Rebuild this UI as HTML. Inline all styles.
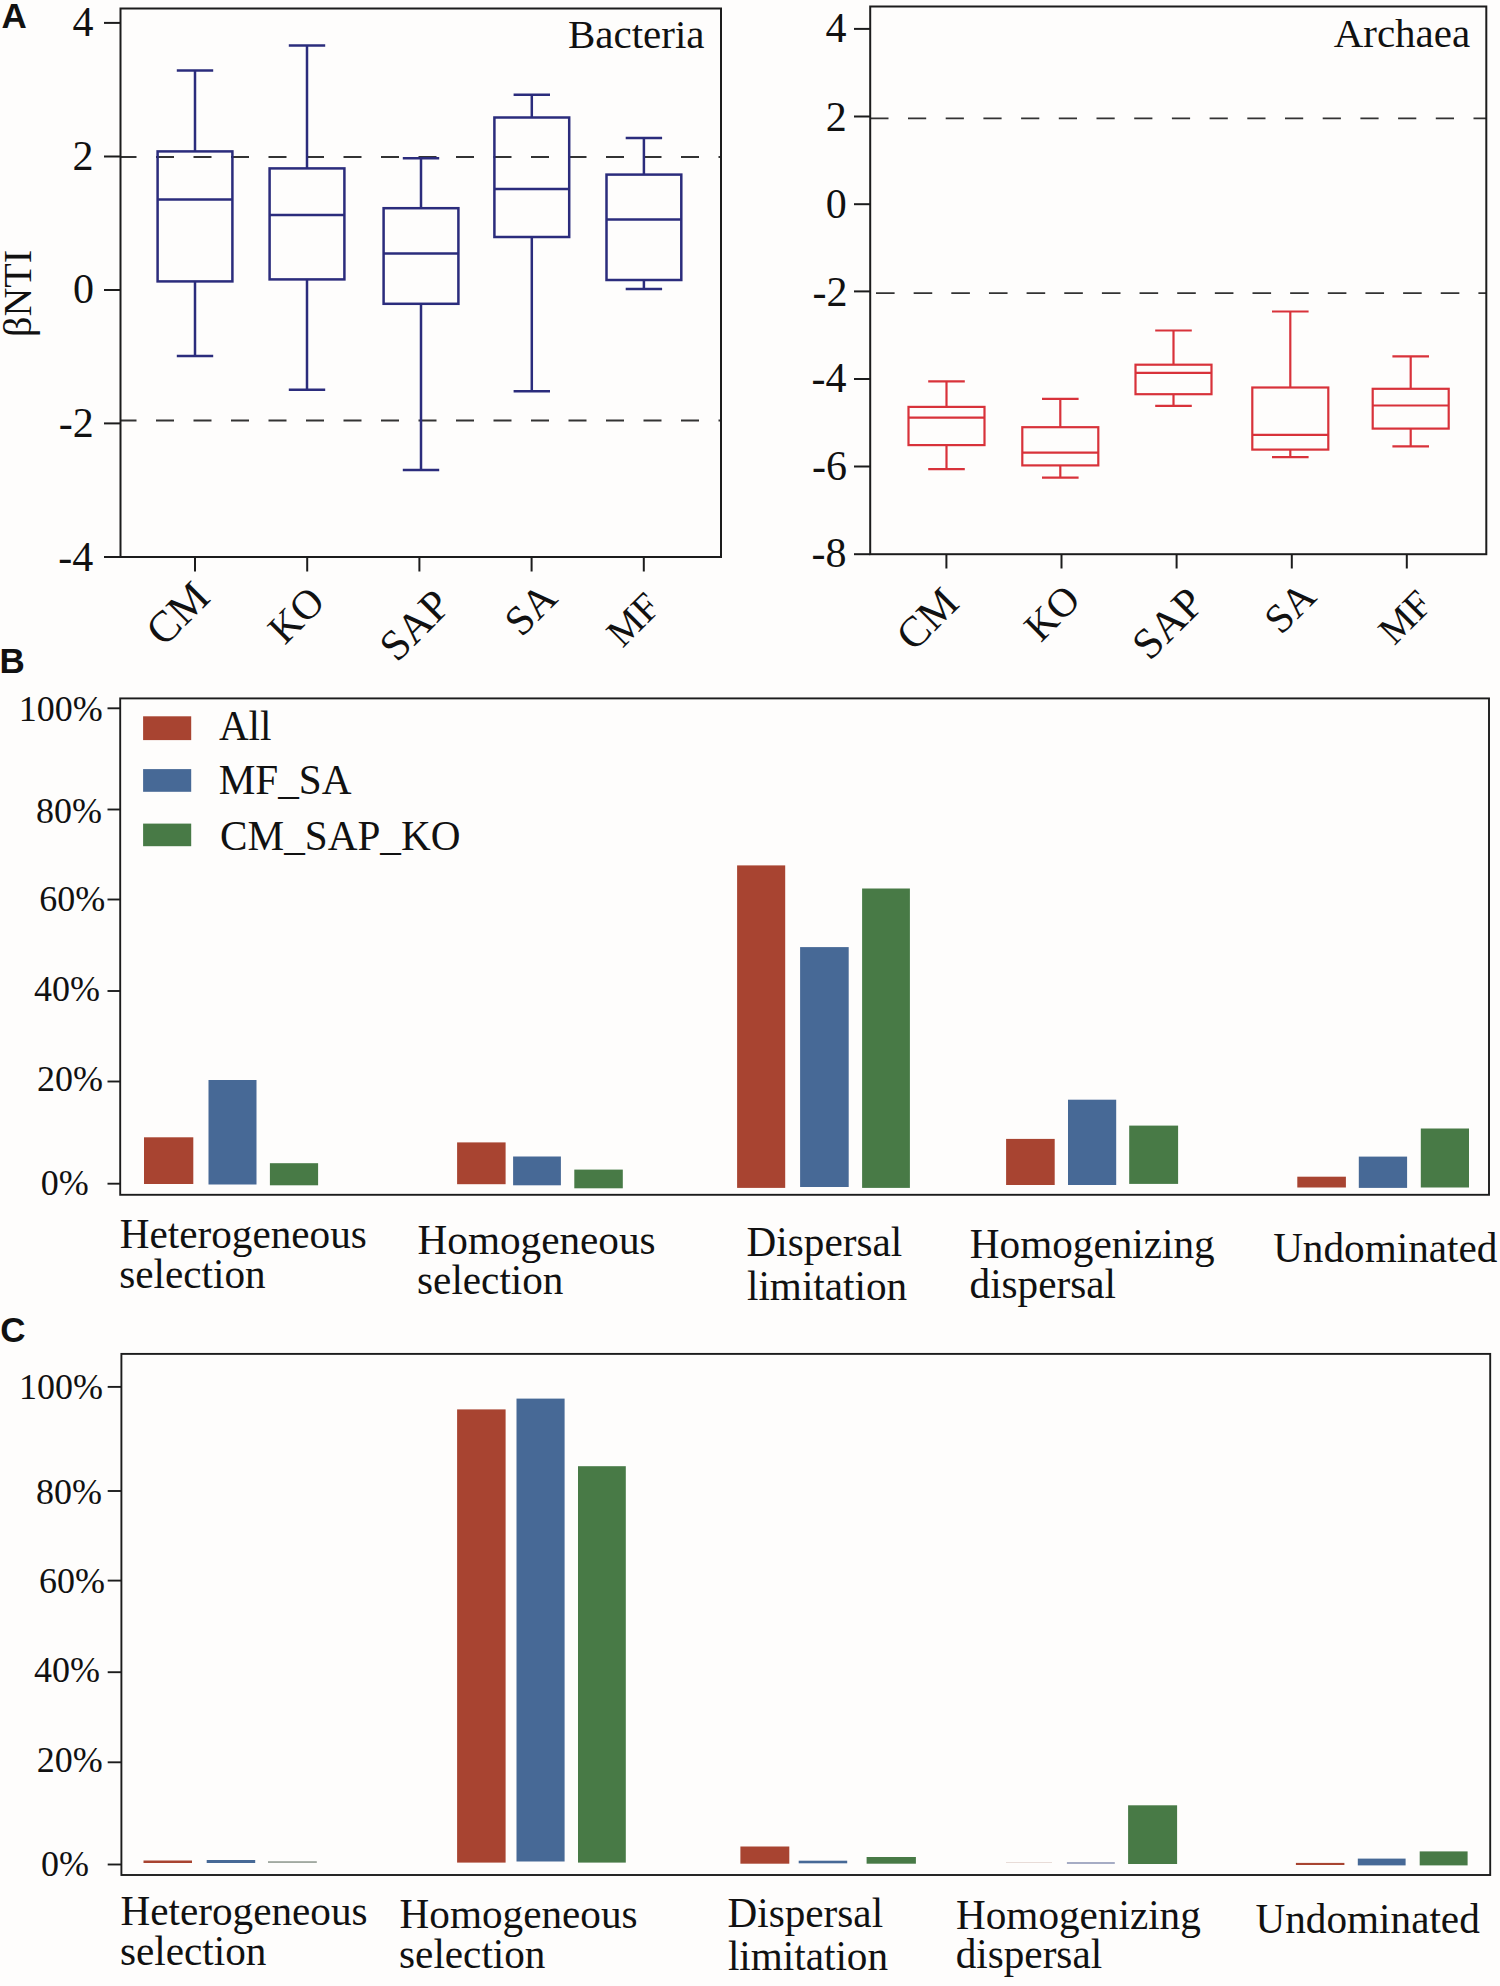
<!DOCTYPE html>
<html><head><meta charset="utf-8"><title>Figure</title><style>
html,body{margin:0;padding:0;background:#fefdfc;}
svg{display:block;}
text{fill:#111;font-kerning:none;}
</style></head><body>
<svg width="1500" height="1986" viewBox="0 0 1500 1986">
<rect width="1500" height="1986" fill="#fefdfc"/>
<text x="1.59" y="27.94" font-size="35" style="font-family:'Liberation Sans',sans-serif;font-weight:bold" >A</text>
<line x1="120.5" y1="157" x2="721" y2="157" stroke="#333" stroke-width="2" stroke-dasharray="18 19.5" stroke-dashoffset="2.0"/>
<line x1="120.5" y1="420.5" x2="721" y2="420.5" stroke="#333" stroke-width="2" stroke-dasharray="18 19.5" stroke-dashoffset="2.0"/>
<rect x="120.5" y="8.5" width="600.5" height="548.5" fill="none" stroke="#1c1c1c" stroke-width="2"/>
<line x1="104" y1="22.9" x2="120.5" y2="22.9" stroke="#1c1c1c" stroke-width="2" />
<line x1="104" y1="156.5" x2="120.5" y2="156.5" stroke="#1c1c1c" stroke-width="2" />
<line x1="104" y1="290" x2="120.5" y2="290" stroke="#1c1c1c" stroke-width="2" />
<line x1="104" y1="423.4" x2="120.5" y2="423.4" stroke="#1c1c1c" stroke-width="2" />
<line x1="104" y1="557" x2="120.5" y2="557" stroke="#1c1c1c" stroke-width="2" />
<text x="72.42" y="36.17" font-size="42" style="font-family:'Liberation Serif',serif" >4</text>
<text x="72.59" y="169.9" font-size="42" style="font-family:'Liberation Serif',serif" >2</text>
<text x="72.9" y="303.16" font-size="42" style="font-family:'Liberation Serif',serif" >0</text>
<text x="58.74" y="437.1" font-size="42" style="font-family:'Liberation Serif',serif" >-2</text>
<text x="58.36" y="570.52" font-size="42" style="font-family:'Liberation Serif',serif" >-4</text>
<line x1="195" y1="557" x2="195" y2="571.5" stroke="#1c1c1c" stroke-width="2" />
<line x1="307.2" y1="557" x2="307.2" y2="571.5" stroke="#1c1c1c" stroke-width="2" />
<line x1="419.4" y1="557" x2="419.4" y2="571.5" stroke="#1c1c1c" stroke-width="2" />
<line x1="531.6" y1="557" x2="531.6" y2="571.5" stroke="#1c1c1c" stroke-width="2" />
<line x1="643.8" y1="557" x2="643.8" y2="571.5" stroke="#1c1c1c" stroke-width="2" />
<line x1="176.8" y1="70.6" x2="213.2" y2="70.6" stroke="#2b2c7c" stroke-width="2.5" />
<line x1="195" y1="70.6" x2="195" y2="151.4" stroke="#2b2c7c" stroke-width="2.5" />
<rect x="157.6" y="151.4" width="74.8" height="130.0" fill="none" stroke="#2b2c7c" stroke-width="2.5"/>
<line x1="157.6" y1="199.6" x2="232.4" y2="199.6" stroke="#2b2c7c" stroke-width="2.5" />
<line x1="195" y1="281.4" x2="195" y2="356" stroke="#2b2c7c" stroke-width="2.5" />
<line x1="176.8" y1="356" x2="213.2" y2="356" stroke="#2b2c7c" stroke-width="2.5" />
<line x1="288.8" y1="45.6" x2="325.2" y2="45.6" stroke="#2b2c7c" stroke-width="2.5" />
<line x1="307" y1="45.6" x2="307" y2="168.4" stroke="#2b2c7c" stroke-width="2.5" />
<rect x="269.6" y="168.4" width="74.8" height="111.0" fill="none" stroke="#2b2c7c" stroke-width="2.5"/>
<line x1="269.6" y1="215" x2="344.4" y2="215" stroke="#2b2c7c" stroke-width="2.5" />
<line x1="307" y1="279.4" x2="307" y2="389.8" stroke="#2b2c7c" stroke-width="2.5" />
<line x1="288.8" y1="389.8" x2="325.2" y2="389.8" stroke="#2b2c7c" stroke-width="2.5" />
<line x1="402.8" y1="158.3" x2="439.2" y2="158.3" stroke="#2b2c7c" stroke-width="2.5" />
<line x1="421" y1="158.3" x2="421" y2="208.2" stroke="#2b2c7c" stroke-width="2.5" />
<rect x="383.6" y="208.2" width="74.8" height="95.6" fill="none" stroke="#2b2c7c" stroke-width="2.5"/>
<line x1="383.6" y1="253.5" x2="458.4" y2="253.5" stroke="#2b2c7c" stroke-width="2.5" />
<line x1="421" y1="303.8" x2="421" y2="470" stroke="#2b2c7c" stroke-width="2.5" />
<line x1="402.8" y1="470" x2="439.2" y2="470" stroke="#2b2c7c" stroke-width="2.5" />
<line x1="513.6" y1="94.8" x2="550.0" y2="94.8" stroke="#2b2c7c" stroke-width="2.5" />
<line x1="531.8" y1="94.8" x2="531.8" y2="117.5" stroke="#2b2c7c" stroke-width="2.5" />
<rect x="494.4" y="117.5" width="74.8" height="119.5" fill="none" stroke="#2b2c7c" stroke-width="2.5"/>
<line x1="494.4" y1="188.9" x2="569.2" y2="188.9" stroke="#2b2c7c" stroke-width="2.5" />
<line x1="531.8" y1="237" x2="531.8" y2="391.2" stroke="#2b2c7c" stroke-width="2.5" />
<line x1="513.6" y1="391.2" x2="550.0" y2="391.2" stroke="#2b2c7c" stroke-width="2.5" />
<line x1="625.7" y1="137.9" x2="662.1" y2="137.9" stroke="#2b2c7c" stroke-width="2.5" />
<line x1="643.9" y1="137.9" x2="643.9" y2="174.6" stroke="#2b2c7c" stroke-width="2.5" />
<rect x="606.5" y="174.6" width="74.8" height="105.4" fill="none" stroke="#2b2c7c" stroke-width="2.5"/>
<line x1="606.5" y1="219.5" x2="681.3" y2="219.5" stroke="#2b2c7c" stroke-width="2.5" />
<line x1="643.9" y1="280" x2="643.9" y2="289.1" stroke="#2b2c7c" stroke-width="2.5" />
<line x1="625.7" y1="289.1" x2="662.1" y2="289.1" stroke="#2b2c7c" stroke-width="2.5" />
<text x="567.9" y="48.3" font-size="41" style="font-family:'Liberation Serif',serif" >Bacteria</text>
<text font-size="40" text-anchor="middle" style="font-family:'Liberation Serif',serif" transform="translate(30.8,293.4) rotate(-90)">βNTI</text>
<text font-size="43.67" text-anchor="end" style="font-family:'Liberation Serif',serif" transform="translate(211.91,599.62) rotate(-45)">CM</text>
<text font-size="41.11" text-anchor="end" style="font-family:'Liberation Serif',serif" transform="translate(326.68,603.74) rotate(-45)">KO</text>
<text font-size="43.19" text-anchor="end" style="font-family:'Liberation Serif',serif" transform="translate(452.96,607.34) rotate(-45)">SAP</text>
<text font-size="41.67" text-anchor="end" style="font-family:'Liberation Serif',serif" transform="translate(559.22,600.26) rotate(-45)">SA</text>
<text font-size="39.14" text-anchor="end" style="font-family:'Liberation Serif',serif" transform="translate(662.49,608.86) rotate(-45)">MF</text>
<line x1="870.2" y1="118.4" x2="1486.3" y2="118.4" stroke="#333" stroke-width="1.9" stroke-dasharray="18.2 19.5" stroke-dashoffset="-0.1"/>
<line x1="870.2" y1="293.1" x2="1486.3" y2="293.1" stroke="#333" stroke-width="1.9" stroke-dasharray="18.6 19.05" stroke-dashoffset="-5.8"/>
<rect x="870.2" y="6.5" width="616.1" height="547.7" fill="none" stroke="#1c1c1c" stroke-width="2"/>
<line x1="854" y1="28.9" x2="870.2" y2="28.9" stroke="#1c1c1c" stroke-width="2" />
<line x1="854" y1="116.5" x2="870.2" y2="116.5" stroke="#1c1c1c" stroke-width="2" />
<line x1="854" y1="204.2" x2="870.2" y2="204.2" stroke="#1c1c1c" stroke-width="2" />
<line x1="854" y1="291.4" x2="870.2" y2="291.4" stroke="#1c1c1c" stroke-width="2" />
<line x1="854" y1="379" x2="870.2" y2="379" stroke="#1c1c1c" stroke-width="2" />
<line x1="854" y1="466.5" x2="870.2" y2="466.5" stroke="#1c1c1c" stroke-width="2" />
<line x1="854" y1="554.2" x2="870.2" y2="554.2" stroke="#1c1c1c" stroke-width="2" />
<text x="825.52" y="42.27" font-size="42" style="font-family:'Liberation Serif',serif" >4</text>
<text x="825.69" y="131.0" font-size="42" style="font-family:'Liberation Serif',serif" >2</text>
<text x="825.8" y="217.61" font-size="42" style="font-family:'Liberation Serif',serif" >0</text>
<text x="812.54" y="305.65" font-size="42" style="font-family:'Liberation Serif',serif" >-2</text>
<text x="811.41" y="392.07" font-size="42" style="font-family:'Liberation Serif',serif" >-4</text>
<text x="811.95" y="480.0" font-size="42" style="font-family:'Liberation Serif',serif" >-6</text>
<text x="811.58" y="566.71" font-size="42" style="font-family:'Liberation Serif',serif" >-8</text>
<line x1="946.4" y1="554.2" x2="946.4" y2="568.5" stroke="#1c1c1c" stroke-width="2" />
<line x1="1061.5" y1="554.2" x2="1061.5" y2="568.5" stroke="#1c1c1c" stroke-width="2" />
<line x1="1176.6" y1="554.2" x2="1176.6" y2="568.5" stroke="#1c1c1c" stroke-width="2" />
<line x1="1291.8" y1="554.2" x2="1291.8" y2="568.5" stroke="#1c1c1c" stroke-width="2" />
<line x1="1406.8" y1="554.2" x2="1406.8" y2="568.5" stroke="#1c1c1c" stroke-width="2" />
<line x1="928.2" y1="381.3" x2="964.8" y2="381.3" stroke="#d8323a" stroke-width="2.2" />
<line x1="946.5" y1="381.3" x2="946.5" y2="406.9" stroke="#d8323a" stroke-width="2.2" />
<rect x="908.5" y="406.9" width="76" height="38.2" fill="none" stroke="#d8323a" stroke-width="2.2"/>
<line x1="908.5" y1="417.6" x2="984.5" y2="417.6" stroke="#d8323a" stroke-width="2.2" />
<line x1="946.5" y1="445.1" x2="946.5" y2="469.2" stroke="#d8323a" stroke-width="2.2" />
<line x1="928.2" y1="469.2" x2="964.8" y2="469.2" stroke="#d8323a" stroke-width="2.2" />
<line x1="1042.0" y1="398.8" x2="1078.6" y2="398.8" stroke="#d8323a" stroke-width="2.2" />
<line x1="1060.3" y1="398.8" x2="1060.3" y2="427.2" stroke="#d8323a" stroke-width="2.2" />
<rect x="1022.3" y="427.2" width="76" height="38.2" fill="none" stroke="#d8323a" stroke-width="2.2"/>
<line x1="1022.3" y1="452.6" x2="1098.3" y2="452.6" stroke="#d8323a" stroke-width="2.2" />
<line x1="1060.3" y1="465.4" x2="1060.3" y2="477.7" stroke="#d8323a" stroke-width="2.2" />
<line x1="1042.0" y1="477.7" x2="1078.6" y2="477.7" stroke="#d8323a" stroke-width="2.2" />
<line x1="1155.2" y1="330.5" x2="1191.8" y2="330.5" stroke="#d8323a" stroke-width="2.2" />
<line x1="1173.5" y1="330.5" x2="1173.5" y2="364.7" stroke="#d8323a" stroke-width="2.2" />
<rect x="1135.5" y="364.7" width="76" height="29.5" fill="none" stroke="#d8323a" stroke-width="2.2"/>
<line x1="1135.5" y1="372.8" x2="1211.5" y2="372.8" stroke="#d8323a" stroke-width="2.2" />
<line x1="1173.5" y1="394.2" x2="1173.5" y2="405.8" stroke="#d8323a" stroke-width="2.2" />
<line x1="1155.2" y1="405.8" x2="1191.8" y2="405.8" stroke="#d8323a" stroke-width="2.2" />
<line x1="1272.0" y1="311.5" x2="1308.6" y2="311.5" stroke="#d8323a" stroke-width="2.2" />
<line x1="1290.3" y1="311.5" x2="1290.3" y2="387.5" stroke="#d8323a" stroke-width="2.2" />
<rect x="1252.3" y="387.5" width="76" height="62.1" fill="none" stroke="#d8323a" stroke-width="2.2"/>
<line x1="1252.3" y1="434.9" x2="1328.3" y2="434.9" stroke="#d8323a" stroke-width="2.2" />
<line x1="1290.3" y1="449.6" x2="1290.3" y2="457.2" stroke="#d8323a" stroke-width="2.2" />
<line x1="1272.0" y1="457.2" x2="1308.6" y2="457.2" stroke="#d8323a" stroke-width="2.2" />
<line x1="1392.4" y1="356.4" x2="1429.0" y2="356.4" stroke="#d8323a" stroke-width="2.2" />
<line x1="1410.7" y1="356.4" x2="1410.7" y2="388.8" stroke="#d8323a" stroke-width="2.2" />
<rect x="1372.7" y="388.8" width="76" height="39.8" fill="none" stroke="#d8323a" stroke-width="2.2"/>
<line x1="1372.7" y1="405.5" x2="1448.7" y2="405.5" stroke="#d8323a" stroke-width="2.2" />
<line x1="1410.7" y1="428.6" x2="1410.7" y2="446.3" stroke="#d8323a" stroke-width="2.2" />
<line x1="1392.4" y1="446.3" x2="1429.0" y2="446.3" stroke="#d8323a" stroke-width="2.2" />
<text x="1333.65" y="47.4" font-size="41" style="font-family:'Liberation Serif',serif" >Archaea</text>
<text font-size="42.92" text-anchor="end" style="font-family:'Liberation Serif',serif" transform="translate(960.87,605.37) rotate(-45)">CM</text>
<text font-size="40.55" text-anchor="end" style="font-family:'Liberation Serif',serif" transform="translate(1082.23,601.88) rotate(-45)">KO</text>
<text font-size="43.52" text-anchor="end" style="font-family:'Liberation Serif',serif" transform="translate(1206.3,605.34) rotate(-45)">SAP</text>
<text font-size="41.02" text-anchor="end" style="font-family:'Liberation Serif',serif" transform="translate(1318.12,598.71) rotate(-45)">SA</text>
<text font-size="39.03" text-anchor="end" style="font-family:'Liberation Serif',serif" transform="translate(1434.05,606.49) rotate(-45)">MF</text>
<text x="-0.41" y="672.99" font-size="35" style="font-family:'Liberation Sans',sans-serif;font-weight:bold" >B</text>
<rect x="144" y="1137.3" width="49.3" height="46.7" fill="#a84431"/>
<rect x="208.5" y="1080" width="48.0" height="104.5" fill="#476996"/>
<rect x="269.9" y="1163.2" width="48.2" height="22.1" fill="#487a46"/>
<rect x="457.1" y="1142.4" width="48.5" height="41.8" fill="#a84431"/>
<rect x="513.1" y="1156.5" width="47.8" height="28.8" fill="#476996"/>
<rect x="574.3" y="1169.6" width="48.5" height="18.7" fill="#487a46"/>
<rect x="737.1" y="865.4" width="48.1" height="322.5" fill="#a84431"/>
<rect x="800.1" y="947.1" width="48.6" height="239.9" fill="#476996"/>
<rect x="862.1" y="888.5" width="47.8" height="299.4" fill="#487a46"/>
<rect x="1006.1" y="1138.9" width="48.6" height="46.1" fill="#a84431"/>
<rect x="1068" y="1099.7" width="48.2" height="85.3" fill="#476996"/>
<rect x="1129.2" y="1125.6" width="48.9" height="58.3" fill="#487a46"/>
<rect x="1297.3" y="1176.7" width="48.6" height="10.8" fill="#a84431"/>
<rect x="1358.8" y="1156.6" width="48.3" height="31.3" fill="#476996"/>
<rect x="1420.8" y="1128.5" width="48.2" height="59.0" fill="#487a46"/>
<rect x="120.2" y="698.4" width="1368.8" height="496.4" fill="none" stroke="#1c1c1c" stroke-width="1.9"/>
<line x1="107.5" y1="708.3" x2="120.2" y2="708.3" stroke="#1c1c1c" stroke-width="1.9" />
<text x="18.74" y="720.98" font-size="36" style="font-family:'Liberation Serif',serif" >100%</text>
<line x1="107.5" y1="809.5" x2="120.2" y2="809.5" stroke="#1c1c1c" stroke-width="1.9" />
<text x="36.04" y="822.53" font-size="36" style="font-family:'Liberation Serif',serif" >80%</text>
<line x1="107.5" y1="899.5" x2="120.2" y2="899.5" stroke="#1c1c1c" stroke-width="1.9" />
<text x="39.2" y="911.23" font-size="36" style="font-family:'Liberation Serif',serif" >60%</text>
<line x1="107.5" y1="991" x2="120.2" y2="991" stroke="#1c1c1c" stroke-width="1.9" />
<text x="33.92" y="1000.93" font-size="36" style="font-family:'Liberation Serif',serif" >40%</text>
<line x1="107.5" y1="1081.5" x2="120.2" y2="1081.5" stroke="#1c1c1c" stroke-width="1.9" />
<text x="36.93" y="1091.13" font-size="36" style="font-family:'Liberation Serif',serif" >20%</text>
<line x1="107.5" y1="1183.7" x2="120.2" y2="1183.7" stroke="#1c1c1c" stroke-width="1.9" />
<text x="40.74" y="1194.73" font-size="36" style="font-family:'Liberation Serif',serif" >0%</text>
<rect x="143.1" y="716.3" width="48.1" height="23.8" fill="#a84431"/>
<text x="218.89" y="740.4" font-size="41.2" style="font-family:'Liberation Serif',serif" >All</text>
<rect x="143.1" y="769.1" width="48.1" height="22.7" fill="#476996"/>
<text x="218.65" y="794" font-size="41.2" style="font-family:'Liberation Serif',serif" >MF_SA</text>
<rect x="143.1" y="823.6" width="48.1" height="22.6" fill="#487a46"/>
<text x="220.05" y="850.2" font-size="41.2" style="font-family:'Liberation Serif',serif" >CM_SAP_KO</text>
<text x="119.8" y="1248.2" font-size="41.2" style="font-family:'Liberation Serif',serif" >Heterogeneous</text>
<text x="119.3" y="1287.8" font-size="41.2" style="font-family:'Liberation Serif',serif" >selection</text>
<text x="417.6" y="1253.7" font-size="41.2" style="font-family:'Liberation Serif',serif" >Homogeneous</text>
<text x="417.09" y="1293.7" font-size="41.2" style="font-family:'Liberation Serif',serif" >selection</text>
<text x="746.62" y="1256.4" font-size="41.2" style="font-family:'Liberation Serif',serif" >Dispersal</text>
<text x="746.98" y="1300.2" font-size="41.2" style="font-family:'Liberation Serif',serif" >limitation</text>
<text x="969.87" y="1257.8" font-size="41.2" style="font-family:'Liberation Serif',serif" >Homogenizing</text>
<text x="969.56" y="1298.2" font-size="41.2" style="font-family:'Liberation Serif',serif" >dispersal</text>
<text x="1273.14" y="1261.6" font-size="41.2" style="font-family:'Liberation Serif',serif" >Undominated</text>
<text x="0.32" y="1341.95" font-size="35" style="font-family:'Liberation Sans',sans-serif;font-weight:bold" >C</text>
<rect x="143.5" y="1860.5" width="48.5" height="2.5" fill="#a84431"/>
<rect x="206.7" y="1860" width="48.5" height="3" fill="#476996"/>
<rect x="268" y="1861.3" width="48.8" height="1.5" fill="#8a948a"/>
<rect x="457.1" y="1409.4" width="48.5" height="453.2" fill="#a84431"/>
<rect x="516.5" y="1398.6" width="48.1" height="462.9" fill="#476996"/>
<rect x="578" y="1466.2" width="47.8" height="396.4" fill="#487a46"/>
<rect x="740.4" y="1846.5" width="48.9" height="17.2" fill="#a84431"/>
<rect x="798.7" y="1860.7" width="48.5" height="2.6" fill="#476996"/>
<rect x="866.6" y="1857" width="49.3" height="6.7" fill="#487a46"/>
<rect x="1006" y="1862" width="46" height="1" fill="#e8dcd8"/>
<rect x="1066.9" y="1862" width="47.9" height="2" fill="#a6acc4"/>
<rect x="1128.1" y="1805.3" width="49.0" height="58.7" fill="#487a46"/>
<rect x="1295.9" y="1862.9" width="48.5" height="2.1" fill="#a84431"/>
<rect x="1357.8" y="1858.6" width="47.8" height="6.8" fill="#476996"/>
<rect x="1419.7" y="1851.4" width="47.9" height="14.0" fill="#487a46"/>
<rect x="121.4" y="1353.9" width="1368.8" height="521.1" fill="none" stroke="#1c1c1c" stroke-width="1.9"/>
<line x1="107.7" y1="1386.9" x2="121.4" y2="1386.9" stroke="#1c1c1c" stroke-width="1.9" />
<text x="19.09" y="1398.63" font-size="36" style="font-family:'Liberation Serif',serif" >100%</text>
<line x1="107.7" y1="1491" x2="121.4" y2="1491" stroke="#1c1c1c" stroke-width="1.9" />
<text x="36.09" y="1503.63" font-size="36" style="font-family:'Liberation Serif',serif" >80%</text>
<line x1="107.7" y1="1580.6" x2="121.4" y2="1580.6" stroke="#1c1c1c" stroke-width="1.9" />
<text x="38.9" y="1592.73" font-size="36" style="font-family:'Liberation Serif',serif" >60%</text>
<line x1="107.7" y1="1672.2" x2="121.4" y2="1672.2" stroke="#1c1c1c" stroke-width="1.9" />
<text x="33.92" y="1681.83" font-size="36" style="font-family:'Liberation Serif',serif" >40%</text>
<line x1="107.7" y1="1762.3" x2="121.4" y2="1762.3" stroke="#1c1c1c" stroke-width="1.9" />
<text x="36.83" y="1772.23" font-size="36" style="font-family:'Liberation Serif',serif" >20%</text>
<line x1="107.7" y1="1864.5" x2="121.4" y2="1864.5" stroke="#1c1c1c" stroke-width="1.9" />
<text x="41.09" y="1876.18" font-size="36" style="font-family:'Liberation Serif',serif" >0%</text>
<text x="120.5" y="1925.1" font-size="41.2" style="font-family:'Liberation Serif',serif" >Heterogeneous</text>
<text x="120.0" y="1964.7" font-size="41.2" style="font-family:'Liberation Serif',serif" >selection</text>
<text x="399.6" y="1928.2" font-size="41.2" style="font-family:'Liberation Serif',serif" >Homogeneous</text>
<text x="399.09" y="1967.8" font-size="41.2" style="font-family:'Liberation Serif',serif" >selection</text>
<text x="727.52" y="1927.3" font-size="41.2" style="font-family:'Liberation Serif',serif" >Dispersal</text>
<text x="727.88" y="1970" font-size="41.2" style="font-family:'Liberation Serif',serif" >limitation</text>
<text x="956.02" y="1929" font-size="41.2" style="font-family:'Liberation Serif',serif" >Homogenizing</text>
<text x="955.71" y="1967.7" font-size="41.2" style="font-family:'Liberation Serif',serif" >dispersal</text>
<text x="1255.54" y="1932.5" font-size="41.2" style="font-family:'Liberation Serif',serif" >Undominated</text>
</svg>
</body></html>
